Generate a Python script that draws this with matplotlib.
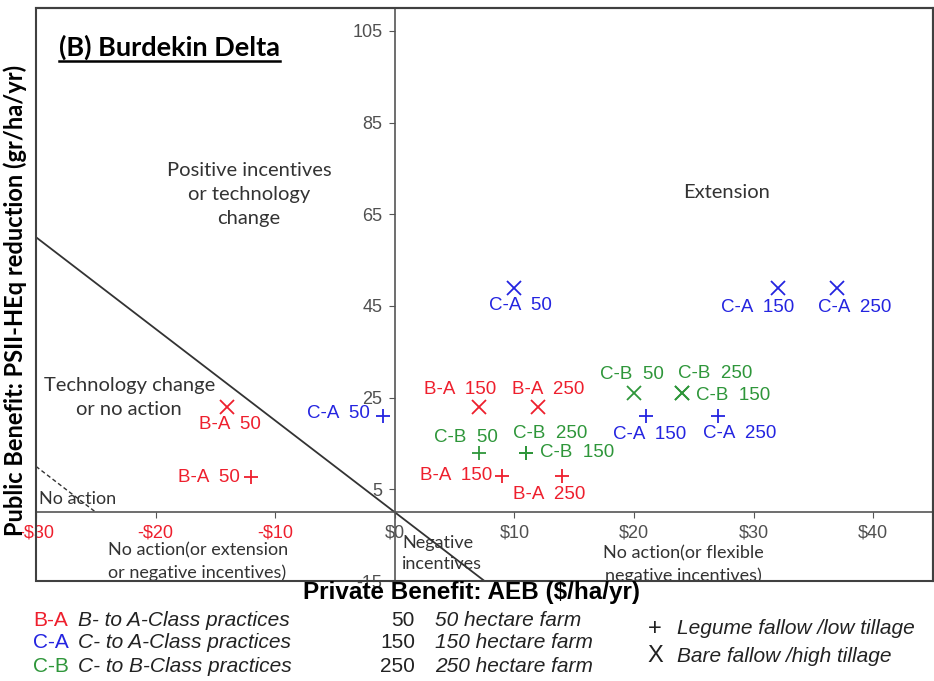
import numpy as np
import matplotlib.pyplot as plt
from matplotlib.patches import Rectangle
from matplotlib.lines import Line2D
from matplotlib.transforms import IdentityTransform

# transition, farm size (ha), practice ('+' legume/low tillage, 'x' bare/high tillage)
codes = ['B-A', 'B-A', 'C-A', 'C-A', 'C-A', 'C-A', 'B-A', 'B-A', 'C-B',
         'C-B', 'C-B', 'C-A', 'C-A', 'C-B', 'C-B', 'C-B', 'B-A', 'B-A']
farm = [50, 50, 50, 50, 150, 250, 150, 250, 50,
        250, 150, 150, 250, 50, 250, 150, 150, 250]
practice = ['x', '+', '+', 'x', 'x', 'x', 'x', 'x', 'x',
            'x', 'x', '+', '+', '+', '+', '+', '+', '+']
aeb = [-14, -12, -1, 10, 32, 37, 7, 12, 20, 24, 24, 21, 27, 7, 11, 11, 9, 14]
psii = [23, 7.6, 21, 49, 49, 49, 23, 23, 26, 26, 26, 21, 21, 13, 13, 13, 8, 8]

# label placement (offset in pixels, horizontal alignment)
label_pos = [(3, -18, 'center'), (-11, 0, 'right'), (-13, 2, 'right'),
             (6, -18, 'center'), (-20, -20, 'center'), (17, -20, 'center'),
             (-18, 17, 'center'), (10, 17, 'center'), (-2, 19, 'center'),
             (33, 20, 'center'), (14, -2, 'left'), (4, -19, 'center'),
             (22, -18, 'center'), (-13, 15, 'center'), (24, 19, 'center'),
             (14, 0, 'left'), (-10, 0, 'right'), (-13, -19, 'center')]

colors = {'B-A': '#ee1f2d', 'C-A': '#2424e0', 'C-B': '#2e963a'}
code_desc = {'B-A': 'B- to A-Class practices', 'C-A': 'C- to A-Class practices',
             'C-B': 'C- to B-Class practices'}
farm_sizes = [50, 150, 250]
practice_desc = [('+', 'Legume fallow /low tillage'), ('X', 'Bare fallow /high tillage')]

xticks = [-30, -20, -10, 0, 10, 20, 30, 40]
yticks = [-15, 5, 25, 45, 65, 85, 105]

W, H = 934, 681
fig = plt.figure(figsize=(W / 100, H / 100), dpi=100)
ax = fig.add_axes([36 / W, 100 / H, 897 / W, 573 / H])
ax.set_xlim(-30, 45)
ax.set_ylim(-15, 110)

# centre axes
ax.spines['left'].set_position(('data', 0))
ax.spines['bottom'].set_position(('data', 0))
for s in ['left', 'bottom']:
    ax.spines[s].set_color('#555555')
    ax.spines[s].set_linewidth(1.2)
for s in ['top', 'right']:
    ax.spines[s].set_color('#404040')
    ax.spines[s].set_linewidth(1.5)
ax.add_patch(Rectangle((0, 0), 1, 1, transform=ax.transAxes, fill=False,
                       edgecolor='#404040', linewidth=1.5, clip_on=False, zorder=5))

ax.set_xticks(xticks)
ax.set_xticklabels([('-$%d' % -v) if v < 0 else ('$%d' % v) for v in xticks])
for lab, v in zip(ax.get_xticklabels(), xticks):
    lab.set_color('#ee1f2d' if v < 0 else '#505050')
ax.set_yticks(yticks)
ax.set_yticklabels([str(v) for v in yticks], color='#505050')
ax.tick_params(axis='both', direction='out', length=4, color='#555555',
               labelsize=13, pad=5)
for lab in ax.get_xticklabels() + ax.get_yticklabels():
    lab.set_family('Liberation Sans')

# boundary lines: y = -2x and y = -2(x + 25)
xl = np.array([-30, 10])
ax.plot(xl, -2 * xl, color='#333333', lw=1.3)
xd = np.array([-30, -25])
ax.plot(xd, -2 * (xd + 25), color='#333333', lw=1, ls=(0, (3, 2)))

for i in range(len(aeb)):
    c = colors[codes[i]]
    ax.plot(aeb[i], psii[i], marker=practice[i], color=c, ms=10, mew=1.3, ls='none')
    dx, dy, ha = label_pos[i]
    ax.annotate('%s  %d' % (codes[i], farm[i]), (aeb[i], psii[i]),
                xytext=(dx, dy), textcoords='offset pixels', ha=ha, va='center',
                color=c, fontsize=13.5, family='Liberation Sans')

region_kw = dict(color='#333333', fontsize=14.5, family='Lato', linespacing=1.5)
small_kw = dict(color='#333333', fontsize=13, family='Lato', linespacing=1.45)
ax.text(-12.2, 69.3, 'Positive incentives\nor technology\nchange', ha='center', va='center', **region_kw)
ax.text(27.75, 69.8, 'Extension', ha='center', va='center', **region_kw)
ax.text(-22.2, 25, 'Technology change\nor no action', ha='center', va='center', **region_kw)
ax.text(-29.75, 2.8, 'No action', ha='left', va='center', **small_kw)
ax.text(-24, -10.8, 'No action(or extension\nor negative incentives)', ha='left', va='center', **small_kw)
ax.text(0.6, -9, 'Negative\nincentives', ha='left', va='center', **small_kw)
ax.text(24.1, -11.5, 'No action(or flexible\nnegative incentives)', ha='center', va='center',
        clip_on=True, **small_kw)

title = fig.text(59 / W, 1 - 47 / H, '(B) Burdekin Delta', ha='left', va='center',
                 fontsize=19.5, fontweight='bold', family='Lato')
fig.text(15 / W, 1 - 300 / H, 'Public Benefit: PSII-HEq reduction (gr/ha/yr)', rotation=90,
         ha='center', va='center', fontsize=17, fontweight='bold', family='Lato')
fig.text(471 / W, 1 - 592 / H, 'Private Benefit: AEB ($/ha/yr)', ha='center', va='center',
         fontsize=17.5, fontweight='bold', family='Liberation Sans')

# legend block
leg_font = dict(fontsize=15, family='Liberation Sans')
rows = [620, 643, 666]
for y, code in zip(rows, ['B-A', 'C-A', 'C-B']):
    fig.text(33 / W, 1 - y / H, code, color=colors[code], ha='left', va='center', **leg_font)
    fig.text(78 / W, 1 - y / H, code_desc[code], color='#222222', style='italic',
             ha='left', va='center', **leg_font)
for y, s in zip(rows, farm_sizes):
    fig.text(415 / W, 1 - y / H, str(s), color='#222222', ha='right', va='center', **leg_font)
    fig.text(435 / W, 1 - y / H, '%d hectare farm' % s, color='#222222', style='italic',
             ha='left', va='center', **leg_font)
for y, (sym, desc) in zip([629, 656], practice_desc):
    fig.text(655 / W, 1 - y / H, sym, color='#222222', ha='center', va='center',
             fontsize=17, family='Liberation Sans')
    fig.text(677 / W, 1 - y / H, desc, color='#222222', style='italic',
             ha='left', va='center', **leg_font)

# underline the panel title
fig.canvas.draw()
bb = title.get_window_extent()
fig.add_artist(Line2D([bb.x0, bb.x1], [bb.y0 - 1, bb.y0 - 1], transform=IdentityTransform(),
                      color='black', lw=1.8))

fig.savefig('out.png', dpi=100)
